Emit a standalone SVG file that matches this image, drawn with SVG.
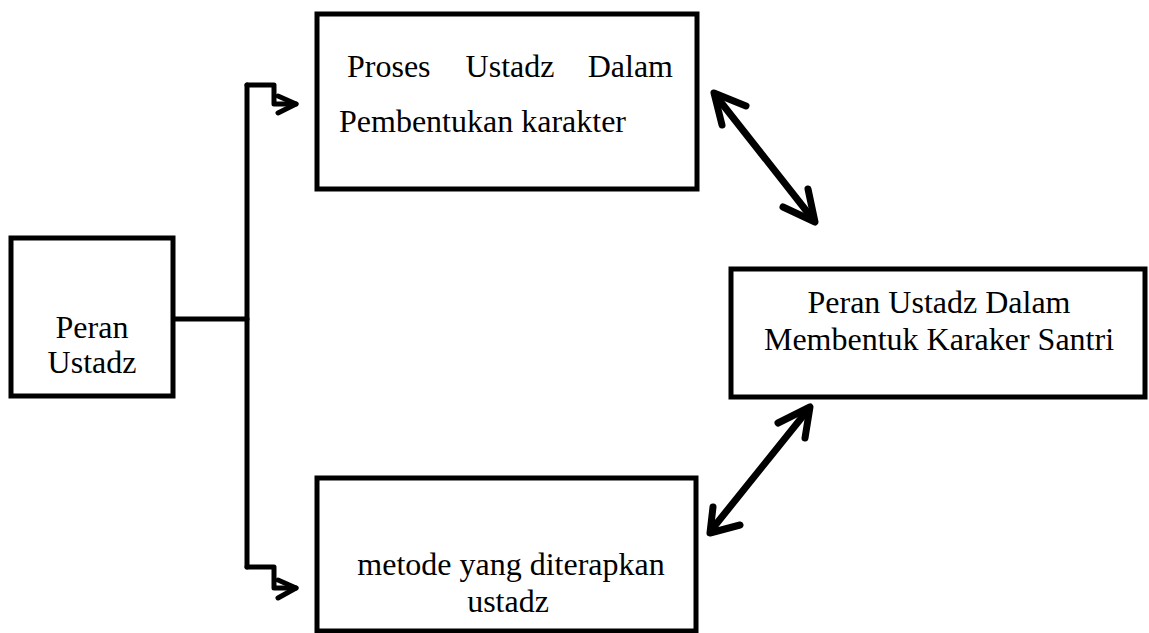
<svg xmlns="http://www.w3.org/2000/svg" width="1149" height="633" viewBox="0 0 1149 633">
<defs>
<style>
.box{fill:#fff;stroke:#000;stroke-width:5}
.ln{fill:none;stroke:#000;stroke-width:5;stroke-linejoin:round;stroke-linecap:round}
.ar{fill:none;stroke:#000;stroke-width:7;stroke-linecap:round;stroke-linejoin:round}
text{font-family:"Liberation Serif","Times New Roman",serif;font-size:32px;fill:#000}
</style>
</defs>
<rect width="1149" height="633" fill="#fff"/>
<g id="connectors">
<polyline class="ln" points="173,319 247,319"/>
<polyline class="ln" points="247,85 247,567"/>
<polyline class="ln" points="247,85 274,85 274,104 296,104"/>
<polyline class="ln" points="278,96 296,104 278,113"/>
<polyline class="ln" points="247,567 274,567 274,588 296,588"/>
<polyline class="ln" points="278,580 296,588 278,598"/>
<line class="ar" x1="716" y1="96" x2="812" y2="218"/>
<polyline class="ar" points="722,125 714,93 746,106"/>
<polyline class="ar" points="783,207 815,222 808,189"/>
<line class="ar" x1="807" y1="411" x2="713" y2="528"/>
<polyline class="ar" points="778,423 810,407 805,438"/>
<polyline class="ar" points="713,507 710,533 740,525"/>
</g>
<g id="node-peran-ustadz">
<rect class="box" x="11" y="238" width="162" height="158"/>
<text x="92" y="338" text-anchor="middle">Peran</text>
<text x="92" y="373" text-anchor="middle">Ustadz</text>
</g>
<g id="node-proses">
<rect class="box" x="317" y="14" width="380" height="175"/>
<text x="347" y="77">Proses</text>
<text x="510" y="77" text-anchor="middle">Ustadz</text>
<text x="673" y="77" text-anchor="end">Dalam</text>
<text x="339" y="132">Pembentukan karakter</text>
</g>
<g id="node-metode">
<rect class="box" x="317" y="478" width="379" height="153"/>
<text x="511" y="575" text-anchor="middle">metode yang diterapkan</text>
<text x="508" y="612" text-anchor="middle">ustadz</text>
</g>
<g id="node-peran-membentuk">
<rect class="box" x="731" y="269" width="414" height="128"/>
<text x="939" y="313" text-anchor="middle">Peran Ustadz Dalam</text>
<text x="939" y="350" text-anchor="middle">Membentuk Karaker Santri</text>
</g>
</svg>
